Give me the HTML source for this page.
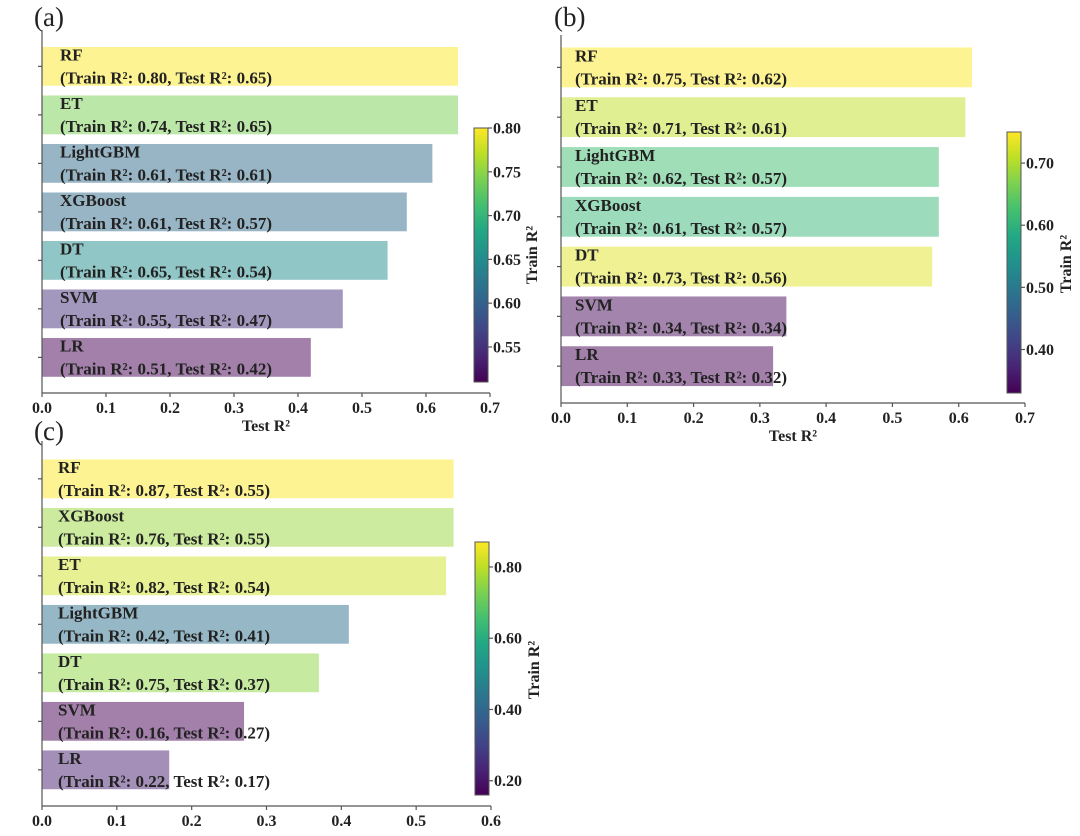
<!DOCTYPE html>
<html><head><meta charset="utf-8"><style>
html,body{margin:0;padding:0;background:#fff;}
svg{display:block;font-family:"Liberation Serif",serif;}
</style></head><body>
<svg id="chart" width="1080" height="836" viewBox="0 0 1080 836">
<defs>
<linearGradient id="viridis" x1="0" y1="1" x2="0" y2="0">
<stop offset="0" stop-color="#440154"/><stop offset="0.1" stop-color="#482475"/><stop offset="0.2" stop-color="#414487"/><stop offset="0.3" stop-color="#355f8d"/><stop offset="0.4" stop-color="#2a788e"/><stop offset="0.5" stop-color="#21918c"/><stop offset="0.6" stop-color="#22a884"/><stop offset="0.7" stop-color="#44bf70"/><stop offset="0.8" stop-color="#7ad151"/><stop offset="0.9" stop-color="#bddf26"/><stop offset="1" stop-color="#fde725"/>
</linearGradient>
</defs>
</svg>
<script>
// Panel (a) data
const aNames = ["RF","ET","LightGBM","XGBoost","DT","SVM","LR"];
const aTrain = [0.80,0.74,0.61,0.61,0.65,0.55,0.51];
const aTest  = [0.65,0.65,0.61,0.57,0.54,0.47,0.42];
const aXTicks = [0.0,0.1,0.2,0.3,0.4,0.5,0.6,0.7];
const aCbTicks = [0.55,0.60,0.65,0.70,0.75,0.80];
// Panel (b) data
const bNames = ["RF","ET","LightGBM","XGBoost","DT","SVM","LR"];
const bTrain = [0.75,0.71,0.62,0.61,0.73,0.34,0.33];
const bTest  = [0.62,0.61,0.57,0.57,0.56,0.34,0.32];
const bXTicks = [0.0,0.1,0.2,0.3,0.4,0.5,0.6,0.7];
const bCbTicks = [0.40,0.50,0.60,0.70];
// Panel (c) data
const cNames = ["RF","XGBoost","ET","LightGBM","DT","SVM","LR"];
const cTrain = [0.87,0.76,0.82,0.42,0.75,0.16,0.22];
const cTest  = [0.55,0.55,0.54,0.41,0.37,0.27,0.17];
const cXTicks = [0.0,0.1,0.2,0.3,0.4,0.5,0.6];
const cCbTicks = [0.20,0.40,0.60,0.80];

const svg = document.getElementById('chart');
const NS = 'http://www.w3.org/2000/svg';
function mk(tag, attrs, parent){
  const e = document.createElementNS(NS, tag);
  for (const k in attrs) e.setAttribute(k, attrs[k]);
  (parent||svg).appendChild(e);
  return e;
}
const VIR = ["#440154","#482475","#414487","#355f8d","#2a788e","#21918c","#22a884","#44bf70","#7ad151","#bddf26","#fde725"];
function hex(h){return [parseInt(h.substr(1,2),16),parseInt(h.substr(3,2),16),parseInt(h.substr(5,2),16)];}
function viridis(t){
  t=Math.max(0,Math.min(1,t)); const p=t*10; const i=Math.min(9,Math.floor(p)); const f=p-i;
  const a=hex(VIR[i]), b=hex(VIR[i+1]);
  return 'rgb('+[0,1,2].map(k=>Math.round((a[k]+(b[k]-a[k])*f)*0.5+255*0.5)).join(',')+')';
}

function panel(L, names, train, test, xTicks, cbTicks){
  const g = mk('g', {});
  
  
  const xs = v => L.x0 + (v - xTicks[0]) / (xTicks[xTicks.length-1] - xTicks[0]) * (L.x1 - L.x0);
  const ys = i => L.yTop + (i + L.pad) * L.pitch;
  const vmin = Math.min(...train), vmax = Math.max(...train);
  const cs = v => L.cbBot - (v - vmin) / (vmax - vmin) * (L.cbBot - L.cbTop);

  const lab = mk('text', {x:L.labX, y:L.labY, 'font-size':27, fill:'#222'}, g);
  lab.textContent = '(' + L.id + ')';
  
  

  names.forEach((n, i) => {
    const cy = ys(i), h = L.pitch * 0.8;
    const r = mk('rect', {x:xs(0), y:cy - h/2, width:xs(test[i]) - xs(0), height:h, fill:viridis((train[i]-vmin)/(vmax-vmin))}, g);
    
    
    const t1 = mk('text', {x:xs(0)+L.txtOff, y:cy - 6, 'font-size':17, 'font-weight':'bold', fill:'#222'}, g);
    t1.textContent = n;
    
    
    const t2 = mk('text', {x:xs(0)+L.txtOff, y:cy + 17, 'font-size':17, 'font-weight':'bold', fill:'#222'}, g);
    t2.textContent = '(Train R\u00b2: ' + train[i].toFixed(2) + ', Test R\u00b2: ' + test[i].toFixed(2) + ')';
    
    
    const tk = mk('line', {x1:xs(0)-4, x2:xs(0), y1:cy, y2:cy, stroke:'#555', 'stroke-width':1.2}, g);
    
    
  });
  const sp = mk('line', {x1:xs(0), x2:xs(0), y1:L.yTop, y2:L.yBot, stroke:'#555', 'stroke-width':1.2}, g);
  
  
  const sb = mk('line', {x1:xs(0), x2:L.x1, y1:L.yBot, y2:L.yBot, stroke:'#555', 'stroke-width':1.2}, g);
  
  
  xTicks.forEach(v => {
    const tl = mk('line', {x1:xs(v), x2:xs(v), y1:L.yBot, y2:L.yBot+4, stroke:'#555', 'stroke-width':1.2}, g);
    
    
    const tt = mk('text', {x:xs(v), y:L.yBot+20, 'font-size':16, 'font-weight':'bold', 'text-anchor':'middle', fill:'#222'}, g);
    tt.textContent = v.toFixed(1);
    
    
  });
  if (L.xlab) {
    const xt = mk('text', {x:(L.x0+L.x1)/2, y:L.yBot+38, 'font-size':16, 'font-weight':'bold', 'text-anchor':'middle', fill:'#222'}, g);
    xt.textContent = 'Test R\u00b2';
    
    
  }
  const cb = mk('rect', {x:L.cbX, y:L.cbTop, width:14, height:L.cbBot-L.cbTop, fill:'url(#viridis)', stroke:'#555', 'stroke-width':1}, g);
  
  
  cbTicks.forEach(v => {
    const y = cs(v);
    const tl = mk('line', {x1:L.cbX+14, x2:L.cbX+18, y1:y, y2:y, stroke:'#555', 'stroke-width':1.2}, g);
    
    
    const tt = mk('text', {x:L.cbX+19, y:y+5.5, 'font-size':16, 'font-weight':'bold', fill:'#222'}, g);
    tt.textContent = v.toFixed(2);
    
    
  });
  const ct = mk('text', {x:0, y:0, 'font-size':16, 'font-weight':'bold', 'text-anchor':'middle', fill:'#222', transform:'translate('+L.cbLabX+','+L.cbLabY+') rotate(-90)'}, g);
  ct.textContent = 'Train R\u00b2';
  
  
}

panel({id:'a', x0:42, x1:490, yTop:30, yBot:393, pitch:48.5, pad:0.75, txtOff:18, labX:34, labY:26,
  cbX:474, cbTop:128, cbBot:382, cbLabX:537, cbLabY:255, xlab:true}, aNames, aTrain, aTest, aXTicks, aCbTicks);
panel({id:'b', x0:561, x1:1025, yTop:35, yBot:403, pitch:49.8, pad:0.65, txtOff:14, labX:554, labY:26,
  cbX:1007, cbTop:132, cbBot:393, cbLabX:1071, cbLabY:264, xlab:true}, bNames, bTrain, bTest, bXTicks, bCbTicks);
panel({id:'c', x0:42, x1:491, yTop:441, yBot:806, pitch:48.5, pad:0.78, txtOff:16, labX:34, labY:440,
  cbX:475, cbTop:542, cbBot:795, cbLabX:539, cbLabY:670, xlab:false}, cNames, cTrain, cTest, cXTicks, cCbTicks);
</script>
</body></html>
